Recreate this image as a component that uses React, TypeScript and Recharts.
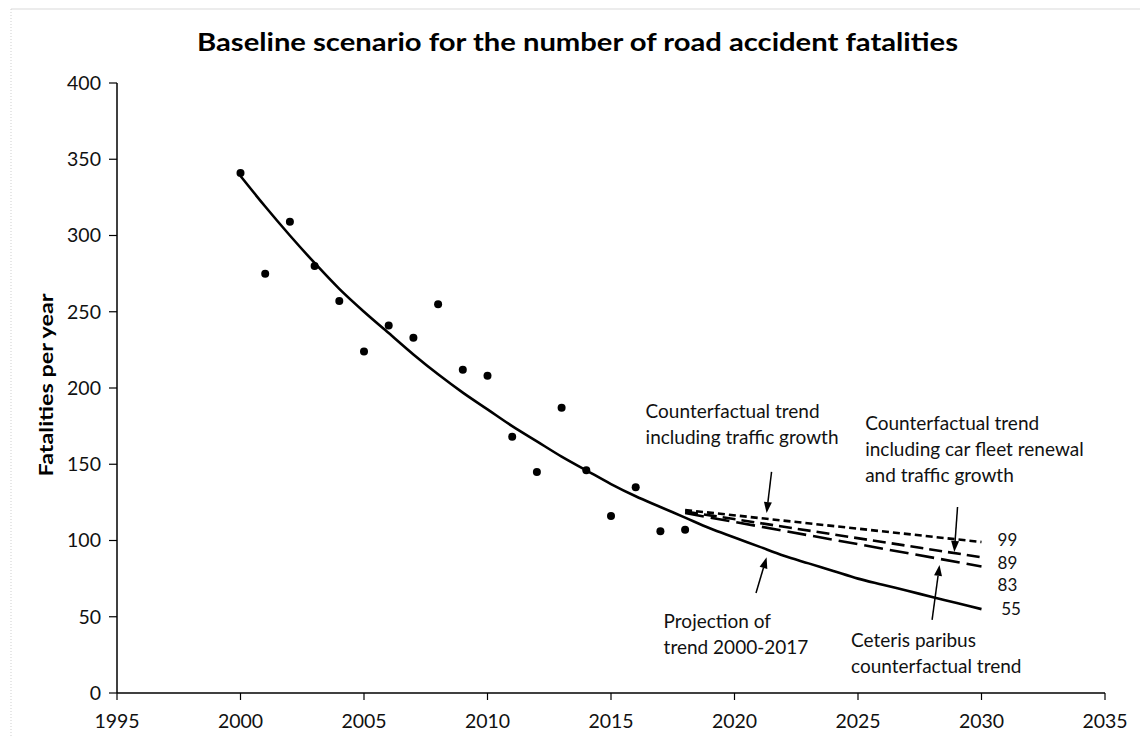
import React from 'react';
import { LineChart, Line, XAxis, YAxis, ReferenceLine, ReferenceDot } from 'recharts';

const observedYears = [2000, 2001, 2002, 2003, 2004, 2005, 2006, 2007, 2008, 2009, 2010, 2011, 2012, 2013, 2014, 2015, 2016, 2017, 2018];
const observedValues = [341, 275, 309, 280, 257, 224, 241, 233, 255, 212, 208, 168, 145, 187, 146, 116, 135, 106, 107];

const trendYears = [2000, 2001, 2002, 2003, 2004, 2005, 2006, 2007, 2008, 2009, 2010, 2011, 2012, 2013, 2014, 2015, 2016, 2017, 2018, 2019, 2020, 2021, 2022, 2023, 2024, 2025, 2026, 2027, 2028, 2029, 2030];
const trendValues = [339, 319, 300, 282, 265, 250, 236, 222, 209, 197, 186, 175, 165, 155, 146, 137, 129, 122, 115, 108, 102, 96, 90, 85, 80, 75, 71, 67, 63, 59, 55];

const scenarioYears = [2018, 2030];
const trafficGrowth = [120, 99];
const fleetRenewalTraffic = [119, 89];
const ceterisParibus = [118, 83];

const xTicks = [1995, 2000, 2005, 2010, 2015, 2020, 2025, 2030, 2035];
const yTicks = [0, 50, 100, 150, 200, 250, 300, 350, 400];

const endLabels = ['99', '89', '83', '55'];
const endLabelX = [2030.65, 2030.65, 2030.65, 2030.8];
const endLabelY = [100.5, 85.5, 70.5, 55];

const toPoints = (xs: number[], ys: number[]) => xs.map((x, i) => ({ x, y: ys[i] }));

const observedData = toPoints(observedYears, observedValues);
const trendData = toPoints(trendYears, trendValues);
const trafficData = toPoints(scenarioYears, trafficGrowth);
const fleetData = toPoints(scenarioYears, fleetRenewalTraffic);
const ceterisData = toPoints(scenarioYears, ceterisParibus);

const FONT = 'Lato, "Open Sans", sans-serif';
const TEXT_COLOR = '#111';

const annotations = [
  { x: 2016.4, y: 180.3, lines: ['Counterfactual trend', 'including traffic growth'] },
  { x: 2025.29, y: 172.5, lines: ['Counterfactual trend', 'including car fleet renewal', 'and traffic growth'] },
  { x: 2017.13, y: 42.6, lines: ['Projection of', 'trend 2000-2017'] },
  { x: 2024.72, y: 30.2, lines: ['Ceteris paribus', 'counterfactual trend'] },
];

const arrows = [
  { from: { x: 2021.5, y: 145 }, to: { x: 2021.3, y: 118 } },
  { from: { x: 2020.87, y: 65.6 }, to: { x: 2021.3, y: 89 } },
  { from: { x: 2029.03, y: 122 }, to: { x: 2028.9, y: 92.5 } },
  { from: { x: 2028.0, y: 47.9 }, to: { x: 2028.3, y: 84 } },
];

const MultiLine = (props: any) => {
  const { cx, cy, lines } = props;
  return (
    <text x={cx} y={cy} fontFamily={FONT} fontSize={19} fill={TEXT_COLOR}>
      {lines.map((l: string, i: number) => (
        <tspan key={i} x={cx} dy={i === 0 ? 0 : 26}>
          {l}
        </tspan>
      ))}
    </text>
  );
};

const ArrowShape = (props: any) => {
  const { x1, y1, x2, y2 } = props;
  const ang = Math.atan2(y2 - y1, x2 - x1);
  const len = 11;
  const hw = 4;
  const bx = x2 - len * Math.cos(ang);
  const by = y2 - len * Math.sin(ang);
  const px = -Math.sin(ang) * hw;
  const py = Math.cos(ang) * hw;
  return (
    <g>
      <line x1={x1} y1={y1} x2={bx} y2={by} stroke="#000" strokeWidth={1.5} />
      <polygon points={`${x2},${y2} ${bx + px},${by + py} ${bx - px},${by - py}`} fill="#000" />
    </g>
  );
};

const tickStyle = { fontFamily: FONT, fontSize: 19.5, fill: TEXT_COLOR };

export default function App() {
  return (
    <div style={{ position: 'absolute', left: 0, top: 0, width: 1140, height: 736, background: '#fff', overflow: 'hidden' }}>
      <LineChart width={1140} height={736} margin={{ top: 83, right: 35, bottom: 0, left: 0 }}>
        <XAxis
          type="number"
          dataKey="x"
          domain={[1995, 2035]}
          ticks={xTicks}
          interval={0}
          height={43}
          tickSize={7}
          tickMargin={14}
          axisLine={{ stroke: '#000', strokeWidth: 1.5 }}
          tickLine={{ stroke: '#000', strokeWidth: 1.2 }}
          tick={tickStyle}
          allowDataOverflow
        />
        <YAxis
          type="number"
          dataKey="y"
          domain={[0, 400]}
          ticks={yTicks}
          interval={0}
          width={117}
          tickSize={8}
          tickMargin={8}
          axisLine={{ stroke: '#000', strokeWidth: 1.5 }}
          tickLine={{ stroke: '#000', strokeWidth: 1.2 }}
          tick={tickStyle}
          allowDataOverflow
        />
        <Line
          data={trendData}
          dataKey="y"
          type="monotone"
          stroke="#000"
          strokeWidth={2.6}
          dot={false}
          isAnimationActive={false}
        />
        <Line
          data={trafficData}
          dataKey="y"
          type="linear"
          stroke="#000"
          strokeWidth={2.6}
          strokeDasharray="7 4"
          dot={false}
          isAnimationActive={false}
        />
        <Line
          data={fleetData}
          dataKey="y"
          type="linear"
          stroke="#000"
          strokeWidth={2.6}
          strokeDasharray="13 6"
          dot={false}
          isAnimationActive={false}
        />
        <Line
          data={ceterisData}
          dataKey="y"
          type="linear"
          stroke="#000"
          strokeWidth={2.6}
          strokeDasharray="19 7"
          dot={false}
          isAnimationActive={false}
        />
        <Line
          data={observedData}
          dataKey="y"
          stroke="none"
          dot={{ r: 4, fill: '#000', stroke: 'none' }}
          activeDot={false}
          isAnimationActive={false}
        />
        {arrows.map((a, i) => (
          <ReferenceLine key={`arr${i}`} segment={[a.from, a.to]} shape={ArrowShape} ifOverflow="visible" />
        ))}
        {annotations.map((a, i) => (
          <ReferenceDot
            key={`ann${i}`}
            x={a.x}
            y={a.y}
            r={0}
            ifOverflow="visible"
            shape={(p: any) => <MultiLine cx={p.cx} cy={p.cy} lines={a.lines} />}
          />
        ))}
        {endLabels.map((t, i) => (
          <ReferenceDot
            key={`end${i}`}
            x={endLabelX[i]}
            y={endLabelY[i]}
            r={0}
            ifOverflow="visible"
            shape={(p: any) => (
              <text x={p.cx} y={p.cy} dy={6} fontFamily={FONT} fontSize={17} fill={TEXT_COLOR}>
                {t}
              </text>
            )}
          />
        ))}
      </LineChart>
      <svg
        width={1140}
        height={736}
        style={{ position: 'absolute', left: 0, top: 0, pointerEvents: 'none' }}
      >
        <line x1={11} y1={9} x2={1140} y2={9} stroke="#d9d9d9" strokeWidth={1} />
        <line x1={11} y1={9} x2={11} y2={736} stroke="#cfcfcf" strokeWidth={1} strokeDasharray="1 2" />
        <text
          x={577.5}
          y={51}
          textAnchor="middle"
          fontFamily={FONT}
          fontWeight="bold"
          fontSize={25}
          fill="#000"
          textLength={761}
          lengthAdjust="spacingAndGlyphs"
        >
          Baseline scenario for the number of road accident fatalities
        </text>
        <text
          x={53}
          y={385}
          textAnchor="middle"
          fontFamily={FONT}
          fontWeight="bold"
          fontSize={18}
          fill="#000"
          transform="rotate(-90 53 385)"
          textLength={183}
          lengthAdjust="spacingAndGlyphs"
        >
          Fatalities per year
        </text>
      </svg>
    </div>
  );
}
